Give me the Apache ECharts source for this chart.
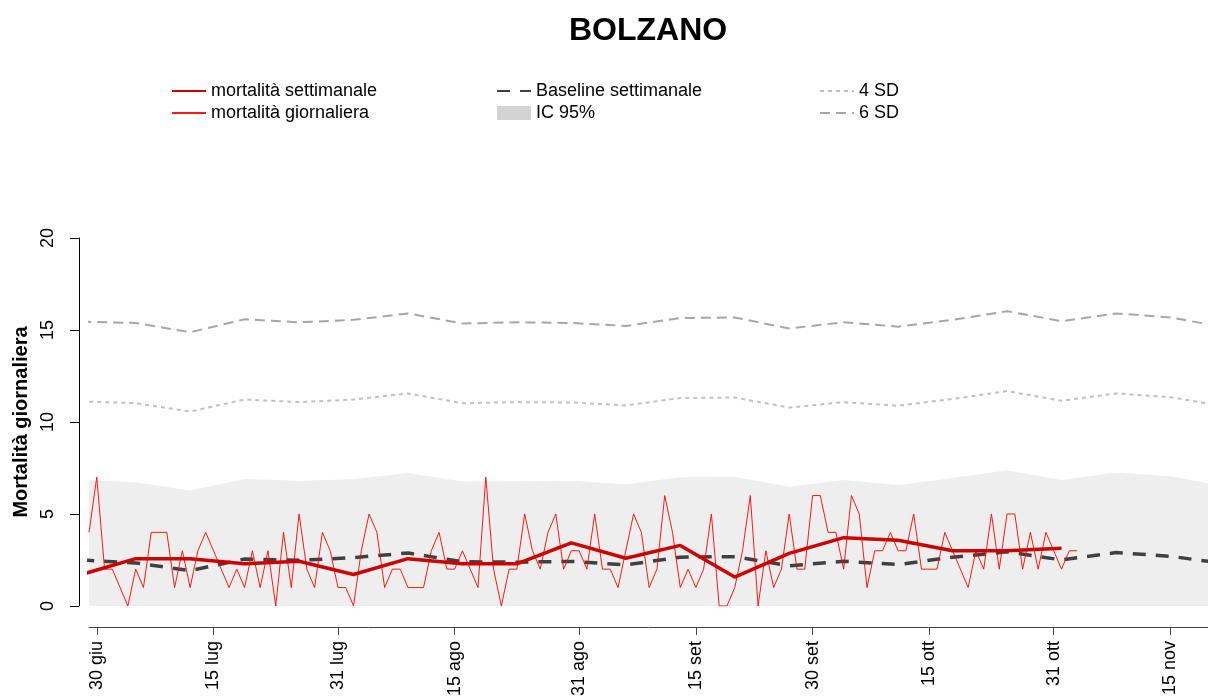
<!DOCTYPE html>
<html>
<head>
<meta charset="utf-8">
<script src="https://cdn.jsdelivr.net/npm/echarts@6/dist/echarts.min.js"></script>
<style>
html,body{margin:0;padding:0;background:#fff;}
#chart{width:1208px;height:699px;}
</style>
</head>
<body>
<div id="chart"></div>
<script>
// ---------------- DATA ----------------
const originDate = '2020-06-30';
const dailyStartDate = '2020-06-29';
const dailyDeaths = [
  4, 7, 2, 2, 1, 0, 2, 1, 4, 4,
  4, 1, 3, 1, 3, 4, 3, 2, 1, 2,
  1, 3, 1, 3, 0, 4, 1, 5, 2, 1,
  4, 3, 1, 1, 0, 3, 5, 4, 1, 2,
  2, 1, 1, 1, 3, 4, 2, 2, 3, 2,
  1, 7, 2, 0, 2, 2, 5, 3, 2, 4,
  5, 2, 3, 3, 2, 5, 2, 2, 1, 3,
  5, 4, 1, 2, 6, 4, 1, 2, 1, 2,
  5, 0, 0, 1, 3, 6, 0, 3, 1, 2,
  5, 2, 2, 6, 6, 4, 4, 2, 6, 5,
  1, 3, 3, 4, 3, 3, 5, 2, 2, 2,
  4, 3, 2, 1, 3, 2, 5, 2, 5, 5,
  2, 4, 2, 4, 3, 2, 3, 3
];
const weekDates = [
  '2020-06-28','2020-07-05','2020-07-12','2020-07-19','2020-07-26',
  '2020-08-02','2020-08-09','2020-08-16','2020-08-23','2020-08-30',
  '2020-09-06','2020-09-13','2020-09-20','2020-09-27','2020-10-04',
  '2020-10-11','2020-10-18','2020-10-25','2020-11-01','2020-11-08',
  '2020-11-15','2020-11-22'
];
const weeklyMortality = [
  1.71, 2.57, 2.57, 2.29, 2.43, 1.71, 2.57, 2.29, 2.29, 3.43,
  2.59, 3.29, 1.57, 2.86, 3.71, 3.57, 3.0, 3.0, 3.14
];
const baselineWeekly = [
  2.5, 2.34, 1.92, 2.55, 2.48, 2.63, 2.88, 2.4, 2.38, 2.42,
  2.23, 2.65, 2.68, 2.18, 2.43, 2.25, 2.65, 2.94, 2.5, 2.9,
  2.7, 2.3
];
const ic95Upper = [
  6.85, 6.72, 6.27, 6.9, 6.8, 6.88, 7.22, 6.76, 6.78, 6.8,
  6.62, 7.0, 7.02, 6.48, 6.85, 6.58, 6.95, 7.38, 6.85, 7.25,
  7.05, 6.5
];
const sd4 = [
  11.12, 11.02, 10.57, 11.22, 11.08, 11.22, 11.55, 11.02, 11.08, 11.06,
  10.9, 11.3, 11.33, 10.78, 11.08, 10.88, 11.25, 11.68, 11.15, 11.55,
  11.35, 10.85
];
const sd6 = [
  15.45, 15.38, 14.88, 15.58, 15.42, 15.55, 15.9, 15.35, 15.42, 15.38,
  15.22, 15.65, 15.68, 15.08, 15.42, 15.18, 15.55, 16.02, 15.48, 15.9,
  15.68, 15.15
];
const tickDates = ['2020-06-30','2020-07-15','2020-07-31','2020-08-15','2020-08-31',
  '2020-09-15','2020-09-30','2020-10-15','2020-10-31','2020-11-15'];
const tickLabels = ['30 giu','15 lug','31 lug','15 ago','31 ago',
  '15 set','30 set','15 ott','31 ott','15 nov'];
const yTicks = [0, 5, 10, 15, 20];

// ---------------- BUILD ----------------
const DAY = 86400000;
const dayOf = s => Math.round((Date.parse(s) - Date.parse(originDate)) / DAY);
const d0 = dayOf(dailyStartDate);
const dailySeries = dailyDeaths.map((v, i) => [d0 + i, v]);
const weekDays = weekDates.map(dayOf);
const pair = arr => arr.map((v, i) => [weekDays[i], v]);
const tickDays = tickDates.map(dayOf);

const FONT = '"Liberation Sans", Arial, Helvetica, sans-serif';
const chart = echarts.init(document.getElementById('chart'), null, {renderer: 'canvas'});

const legendBase = {
  orient: 'vertical', itemWidth: 34, itemHeight: 14, itemGap: 4, selectedMode: false,
  itemStyle: {opacity: 0},
  textStyle: {fontFamily: FONT, fontSize: 18, color: '#000'}, top: 77
};

chart.setOption({
  animation: false,
  backgroundColor: '#fff',
  title: {
    text: 'BOLZANO', left: 564, top: 10,
    textStyle: {fontFamily: FONT, fontSize: 32, fontWeight: 'bold', color: '#000'}
  },
  legend: [
    Object.assign({}, legendBase, {left: 166, data: ['mortalità settimanale', 'mortalità giornaliera']}),
    Object.assign({}, legendBase, {left: 491, data: ['Baseline settimanale',
      {name: 'IC 95%', icon: 'rect', itemStyle: {color: '#D3D3D3', opacity: 1}}]}),
    Object.assign({}, legendBase, {left: 814, data: ['4 SD', '6 SD']})
  ],
  grid: {left: 89, right: 0, top: 238, bottom: 89, containLabel: false},
  xAxis: {
    type: 'value', min: -1, max: 142.83, offset: 21,
    axisLine: {show: true, onZero: false, lineStyle: {color: '#444', width: 1}},
    axisTick: {show: true, customValues: tickDays, length: 8, lineStyle: {color: '#444'}},
    axisLabel: {
      customValues: tickDays, rotate: 90, margin: 14,
      fontFamily: FONT, fontSize: 18, color: '#000',
      formatter: v => { const k = tickDays.indexOf(Math.round(v)); return k >= 0 ? tickLabels[k] : ''; }
    },
    splitLine: {show: false}
  },
  yAxis: {
    type: 'value', min: 0, max: 20, interval: 5, offset: 10,
    name: 'Mortalità giornaliera', nameLocation: 'middle', nameGap: 46,
    nameTextStyle: {fontFamily: FONT, fontSize: 20, fontWeight: 'bold', color: '#000'},
    axisLine: {show: true, onZero: false, lineStyle: {color: '#000', width: 1}},
    axisTick: {show: true, length: 9, lineStyle: {color: '#000'}},
    axisLabel: {rotate: 90, margin: 22, fontFamily: FONT, fontSize: 18, color: '#000',
      customValues: yTicks},
    splitLine: {show: false}
  },
  series: [
    {
      name: 'IC 95%', type: 'line', data: pair(ic95Upper), symbol: 'none',
      lineStyle: {width: 0}, areaStyle: {color: '#EEEEEE', opacity: 1, origin: 'start'},
      itemStyle: {color: '#D3D3D3'}, z: 1, silent: true
    },
    {
      name: '4 SD', type: 'line', data: pair(sd4), symbol: 'none',
      lineStyle: {color: '#C0C0C0', width: 2, type: [4, 4]}, itemStyle: {color: '#C0C0C0'}, z: 2
    },
    {
      name: '6 SD', type: 'line', data: pair(sd6), symbol: 'none',
      lineStyle: {color: '#A6A6A6', width: 2, type: [10, 6]}, itemStyle: {color: '#A6A6A6'}, z: 2
    },
    {
      name: 'Baseline settimanale', type: 'line', data: pair(baselineWeekly), symbol: 'none',
      lineStyle: {color: '#404040', width: 3.5, type: [13, 10]}, itemStyle: {color: '#404040'}, z: 3
    },
    {
      name: 'mortalità giornaliera', type: 'line', data: dailySeries, symbol: 'none',
      lineStyle: {color: '#FF0000', width: 1, opacity: 0.9}, itemStyle: {color: '#FF0000'}, z: 4
    },
    {
      name: 'mortalità settimanale', type: 'line', data: pair(weeklyMortality), symbol: 'none',
      lineStyle: {color: '#CC0000', width: 3.5}, itemStyle: {color: '#CC0000'}, z: 5
    }
  ]
});
</script>
</body>
</html>
